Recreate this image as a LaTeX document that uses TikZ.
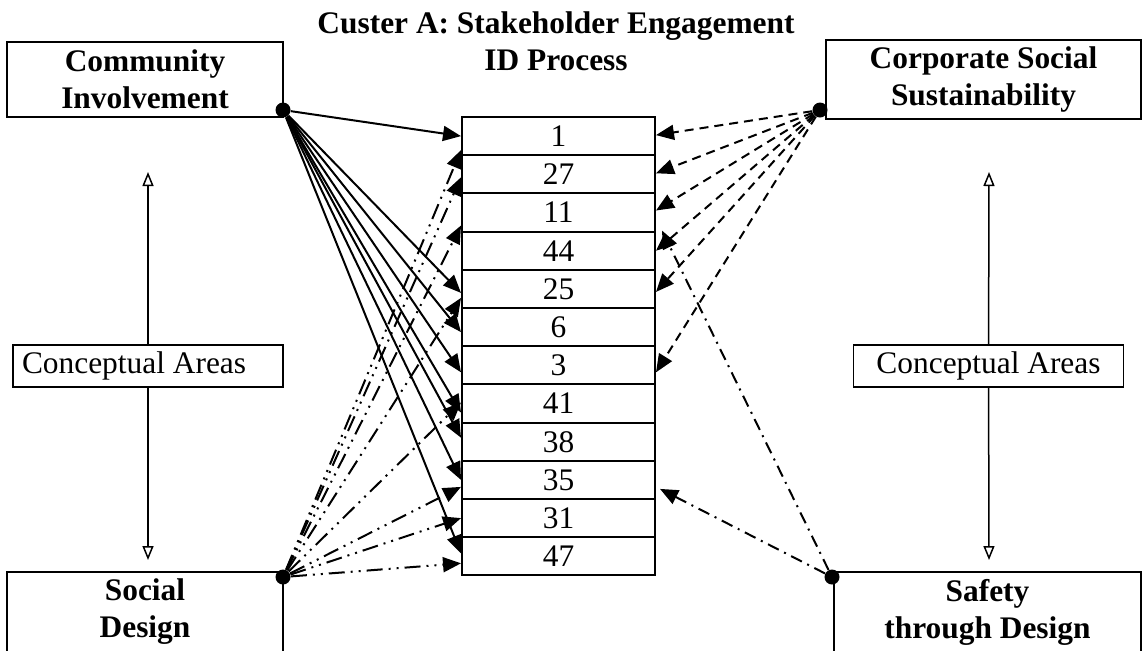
\documentclass[tikz,border=0pt]{standalone}
\usepackage{fontspec}
\setmainfont{Liberation Serif}
\usetikzlibrary{arrows.meta}

\begin{document}
\begin{tikzpicture}[x=0.5pt, y=0.5pt, node distance=19.1pt, font=\fontsize{15.7}{18.5}\selectfont]
\tikzstyle{area} = [rectangle, draw=black, line width=1pt, minimum width=138pt, minimum height=37.5pt, align=center, font=\fontsize{15.7}{18.5}\selectfont\bfseries]
\tikzstyle{cell} = [rectangle, draw=black, line width=1pt, minimum width=96.5pt, minimum height=19.1pt, inner sep=0pt]
\tikzstyle{concept} = [rectangle, draw=black, line width=0.75pt, fill=white, minimum width=135pt, minimum height=21pt]
\tikzstyle{dot} = [circle, fill=black, inner sep=0pt, minimum size=7.5pt]
\tikzstyle{arrow} = [line width=1pt, -{Triangle[length=9pt,width=7.5pt]}]
\tikzstyle{dashedarrow} = [arrow, dash pattern=on 4.5pt off 3pt]
\tikzstyle{dashdotdot} = [arrow, dash pattern=on 8pt off 3pt on 1pt off 3pt on 1pt off 3pt]
\tikzstyle{dashdot} = [arrow, dash pattern=on 6pt off 3pt on 1pt off 3pt]
\tikzstyle{span} = [line width=0.75pt, -{Triangle[open,length=7pt,width=5.5pt]}]

\useasboundingbox (0,0) rectangle (1143,-650);

% Nodes
\node (title) [align=center, font=\fontsize{15.7}{18.5}\selectfont\bfseries] at (556,-41) {Custer A: Stakeholder Engagement\\ID Process};

\node (ci) [area] at (145,-79.5) {Community\\Involvement};
\node (css) [area, minimum width=157.5pt] at (983.5,-79.5) {Corporate Social\\Sustainability};
\node (sd) [area] at (145,-612) {Social\\Design};
\node (std) [area, minimum width=153.5pt] at (987.5,-612) {Safety\\through Design};

\node (r1) [cell] at (558.5,-136.1) {1};
\node (r27) [cell, below of=r1] {27};
\node (r11) [cell, below of=r27] {11};
\node (r44) [cell, below of=r11] {44};
\node (r25) [cell, below of=r44] {25};
\node (r6) [cell, below of=r25] {6};
\node (r3) [cell, below of=r6] {3};
\node (r41) [cell, below of=r3] {41};
\node (r38) [cell, below of=r41] {38};
\node (r35) [cell, below of=r38] {35};
\node (r31) [cell, below of=r35] {31};
\node (r47) [cell, below of=r31] {47};

\node (cal) [concept, text width=126pt, inner xsep=4.5pt, align=flush left] at (148,-366) {Conceptual Areas};
\node (car) [concept] at (988.5,-366) {Conceptual Areas};
\coordinate (caltop) at (148,-172);
\coordinate (calbot) at (148,-560);
\coordinate (cartop) at (989,-172);
\coordinate (carbot) at (989,-560);

\node (cidot) [dot] at (283,-110) {};
\node (cssdot) [dot] at (820,-110) {};
\node (sddot) [dot] at (283,-577) {};
\node (stddot) [dot] at (832,-577) {};

% Arrows
\draw [span] (cal) -- (caltop);
\draw [span] (cal) -- (calbot);
\draw [span] (car) -- (cartop);
\draw [span] (car) -- (carbot);

\draw [arrow] (cidot) -- (r1.west);
\draw [arrow] (cidot) -- ([yshift=-2pt]r25.west);
\draw [arrow] (cidot) -- ([yshift=-2.5pt]r6.west);
\draw [arrow] (cidot) -- ([yshift=-3.5pt]r3.west);
\draw [arrow] (cidot) -- ([yshift=-4.5pt]r41.west);
\draw [arrow] (cidot) -- ([yshift=2pt]r38.west);
\draw [arrow] (cidot) -- (r35.west);
\draw [arrow] (cidot) -- ([yshift=1.5pt]r47.west);

\draw [dashdotdot] (sddot) -- ([yshift=-7pt]r1.west);
\draw [dashdotdot] (sddot) -- ([yshift=-1.5pt]r27.west);
\draw [dashdotdot] (sddot) -- ([yshift=-6.5pt]r11.west);
\draw [dashdotdot] (sddot) -- ([yshift=-4.5pt]r25.west);
\draw [dashdotdot] (sddot) -- ([yshift=0.5pt]r41.west);
\draw [dashdotdot] (sddot) -- ([yshift=-3.5pt]r35.west);
\draw [dashdotdot] (sddot) -- (r31.west);
\draw [dashdotdot] (sddot) -- ([yshift=-3.5pt]r47.west);

\draw [dashedarrow] (cssdot) -- ([yshift=0.5pt]r1.east);
\draw [dashedarrow] (cssdot) -- ([yshift=0.5pt]r27.east);
\draw [dashedarrow] (cssdot) -- ([yshift=1pt]r11.east);
\draw [dashedarrow] (cssdot) -- (r44.east);
\draw [dashedarrow] (cssdot) -- ([yshift=-1.5pt]r25.east);
\draw [dashedarrow] (cssdot) -- ([yshift=-3.5pt]r3.east);

\draw [dashdot] (stddot) -- ([xshift=3pt]r44.north east);
\draw [dashdot] (stddot) -- ([xshift=2pt,yshift=-4.5pt]r35.east);

\end{tikzpicture}
\end{document}
